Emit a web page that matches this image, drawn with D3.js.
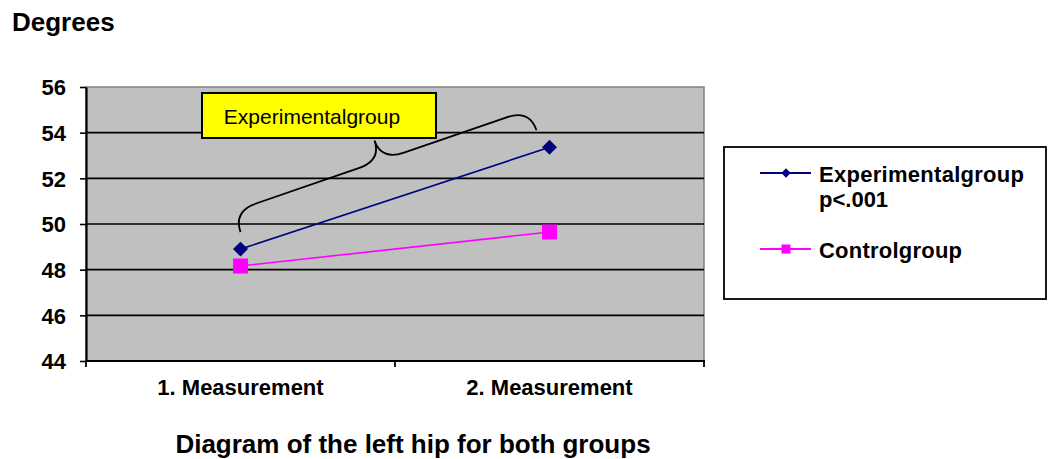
<!DOCTYPE html>
<html>
<head>
<meta charset="utf-8">
<script src="https://cdn.jsdelivr.net/npm/d3@7/dist/d3.min.js"></script>
<style>
  html, body { margin: 0; padding: 0; background: #fff; }
  svg { display: block; font-family: "Liberation Sans", Arial, sans-serif; }
</style>
</head>
<body>
<svg id="chart" width="1048" height="459"></svg>
<script>
// Left hip range of motion, two measurements per group
const categories = ["1. Measurement", "2. Measurement"];
const experimentalValues = [48.9, 53.36];
const controlValues = [48.16, 49.65];
const yTicks = [44, 46, 48, 50, 52, 54, 56];
const seriesNames = ["Experimentalgroup", "Controlgroup"];
const legendSubtitle = "p<.001";
const yTitle = "Degrees";
const chartTitle = "Diagram of the left hip for both groups";
const calloutText = "Experimentalgroup";

const svg = d3.select("#chart");
const plot = { left: 86, right: 704, top: 87, bottom: 361 };

const x = d3.scaleBand().domain(categories).range([plot.left, plot.right]);
const y = d3.scaleLinear().domain([44, 56]).range([plot.bottom, plot.top]);
const cx = c => x(c) + x.bandwidth() / 2;

// plot background
svg.append("rect")
  .attr("x", plot.left).attr("y", plot.top)
  .attr("width", plot.right - plot.left).attr("height", plot.bottom - plot.top)
  .attr("fill", "#c0c0c0")
  .attr("stroke", "#808080").attr("stroke-width", 1.5);

// horizontal gridlines
svg.append("g").selectAll("line")
  .data(yTicks.filter(v => v > 44 && v < 56))
  .join("line")
  .attr("x1", plot.left).attr("x2", plot.right)
  .attr("y1", d => y(d)).attr("y2", d => y(d))
  .attr("stroke", "#000").attr("stroke-width", 1.6);

// y axis
const yAxis = svg.append("g")
  .attr("transform", `translate(${plot.left},0)`)
  .call(d3.axisLeft(y).tickValues(yTicks).tickSize(6).tickSizeOuter(0).tickPadding(14));
yAxis.select(".domain").attr("stroke", "#000").attr("stroke-width", 2.2);
yAxis.selectAll(".tick line").attr("stroke", "#000").attr("stroke-width", 1.6);
yAxis.selectAll(".tick text")
  .attr("font-family", "'Liberation Sans', Arial, sans-serif")
  .attr("font-size", 22).attr("font-weight", "bold").attr("fill", "#000")
  .attr("dy", "0.36em");

// x axis with ticks on band edges
const xAxisG = svg.append("g").attr("transform", `translate(0,${plot.bottom})`);
xAxisG.append("line")
  .attr("x1", plot.left).attr("x2", plot.right + 1)
  .attr("stroke", "#000").attr("stroke-width", 2.2);
const edges = categories.map(c => x(c)).concat([x(categories[categories.length - 1]) + x.bandwidth()]);
xAxisG.selectAll("line.edge").data(edges).join("line")
  .attr("class", "edge")
  .attr("x1", d => d).attr("x2", d => d)
  .attr("y1", 0).attr("y2", 6)
  .attr("stroke", "#000").attr("stroke-width", 1.8);
xAxisG.selectAll("text").data(categories).join("text")
  .attr("x", d => cx(d)).attr("y", 34)
  .attr("text-anchor", "middle")
  .attr("font-size", 22).attr("font-weight", "bold").attr("fill", "#000")
  .text(d => d);

// curly brace annotation over the experimental group rise
const p0 = [cx(categories[0]), y(experimentalValues[0]) - 17];
const p1 = [cx(categories[1]) - 13, y(experimentalValues[1]) - 17];
const len = Math.hypot(p1[0] - p0[0], p1[1] - p0[1]);
const ang = Math.atan2(p1[1] - p0[1], p1[0] - p0[0]) * 180 / Math.PI;
const h = 22, d = 43, m = len / 2;
const brace = d3.path();
brace.moveTo(0, 0);
brace.bezierCurveTo(0, -15, 9, -h, 24, -h);
brace.lineTo(m - 24, -h);
brace.bezierCurveTo(m - 9, -h, m, -h - 6, m, -d);
brace.moveTo(m, -d);
brace.bezierCurveTo(m, -h - 6, m + 9, -h, m + 24, -h);
brace.lineTo(len - 24, -h);
brace.bezierCurveTo(len - 9, -h, len, -15, len, 0);
svg.append("path")
  .attr("d", brace.toString())
  .attr("transform", `translate(${p0[0]},${p0[1]}) rotate(${ang})`)
  .attr("fill", "none").attr("stroke", "#000").attr("stroke-width", 1.8);

// callout label
const callout = svg.append("g");
callout.append("rect")
  .attr("x", 202).attr("y", 93).attr("width", 234).attr("height", 45)
  .attr("fill", "#ffff00").attr("stroke", "#000").attr("stroke-width", 2);
callout.append("text")
  .attr("x", 312).attr("y", 124)
  .attr("text-anchor", "middle")
  .attr("font-size", 21).attr("fill", "#000")
  .text(calloutText);

// series lines and markers
const line = d3.line().x((v, i) => cx(categories[i])).y(v => y(v));
svg.append("path").datum(controlValues)
  .attr("d", line).attr("fill", "none").attr("stroke", "#ff00ff").attr("stroke-width", 1.6);
svg.append("path").datum(experimentalValues)
  .attr("d", line).attr("fill", "none").attr("stroke", "#000080").attr("stroke-width", 1.6);

const diamond = d3.symbol().type(d3.symbolSquare).size(112);
svg.append("g").selectAll("path").data(experimentalValues).join("path")
  .attr("d", diamond)
  .attr("transform", (v, i) => `translate(${cx(categories[i])},${y(v)}) rotate(45)`)
  .attr("fill", "#000080");
svg.append("g").selectAll("rect").data(controlValues).join("rect")
  .attr("x", (v, i) => cx(categories[i]) - 7.5)
  .attr("y", v => y(v) - 7.5)
  .attr("width", 15).attr("height", 15)
  .attr("fill", "#ff00ff");

// legend
const legend = svg.append("g");
legend.append("rect")
  .attr("x", 724).attr("y", 147).attr("width", 322).attr("height", 152)
  .attr("fill", "#fff").attr("stroke", "#000").attr("stroke-width", 1.8);
const legendRows = [
  { name: seriesNames[0], color: "#000080", ly: 173, ty: 182, shape: "diamond", w: 205 },
  { name: seriesNames[1], color: "#ff00ff", ly: 249, ty: 258, shape: "square", w: 143 }
];
legendRows.forEach(r => {
  legend.append("line")
    .attr("x1", 760).attr("x2", 811).attr("y1", r.ly).attr("y2", r.ly)
    .attr("stroke", r.color).attr("stroke-width", 1.8);
  if (r.shape === "diamond") {
    legend.append("path")
      .attr("d", d3.symbol().type(d3.symbolSquare).size(44))
      .attr("transform", `translate(786,${r.ly}) rotate(45)`)
      .attr("fill", r.color);
  } else {
    legend.append("rect")
      .attr("x", 781.5).attr("y", r.ly - 4.5).attr("width", 9).attr("height", 9)
      .attr("fill", r.color);
  }
  legend.append("text")
    .attr("x", 819).attr("y", r.ty)
    .attr("font-size", 22).attr("font-weight", "bold").attr("fill", "#000")
    .attr("textLength", r.w).attr("lengthAdjust", "spacing")
    .text(r.name);
});
legend.append("text")
  .attr("x", 819).attr("y", 207)
  .attr("font-size", 22).attr("font-weight", "bold").attr("fill", "#000")
  .text(legendSubtitle);

// titles
svg.append("text")
  .attr("x", 12).attr("y", 31)
  .attr("font-size", 26).attr("font-weight", "bold").attr("fill", "#000")
  .text(yTitle);
svg.append("text")
  .attr("x", 413).attr("y", 453)
  .attr("text-anchor", "middle")
  .attr("font-size", 26).attr("font-weight", "bold").attr("fill", "#000")
  .text(chartTitle);
</script>
</body>
</html>
